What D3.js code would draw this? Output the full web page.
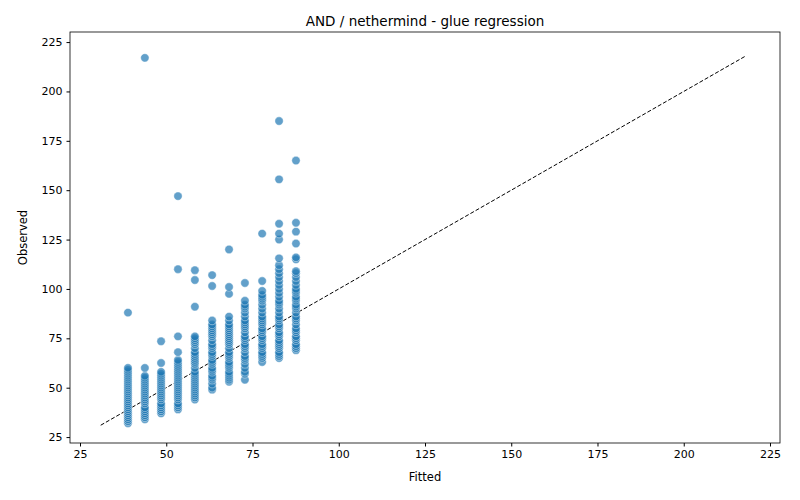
<!DOCTYPE html><html><head><script src="https://cdn.jsdelivr.net/npm/d3@7"></script>
<style>body{margin:0;background:#fff}text{font-family:"DejaVu Sans",sans-serif}</style></head><body><svg id="c" width="800" height="500"></svg><script>
const fittedLevels=[38.9,43.8,48.5,53.4,58.3,63.3,68.2,72.8,77.8,82.7,87.6];
const observedByLevel=[
[32,33,34,35,36,37,38,39,40,41,42,43,44,45,46,47,48,49,50,51,52,53,54,55,56,57,58,59,60,88],
[34,35,36,37,38,39,40,42,43,44,45,46,47,48,49,50,51,52,53,54,55,56,60,217],
[37,38,39,40,41,42,44,45,46,47,48,49,50,51,52,53,54,55,56,57,58,62.5,73.5],
[39,40,41,42,44,45,46,47,48,49,50,51,52,53,54,55,56,57,58,59,60,61,62,63,64,68,76,110,147],
[44,45,46,47,48,49,50,51,52,53,54,55,56,57,58,60,62,63,64,65,66,67,68,70,72,73,74,75,76,91,104.5,109.5],
[49,50,52,54,55,56,58,59,60,62,63,64,66,67,68,70,71,72,74,76,77,78,79,80,81,82,84,101.5,107],
[53,54,55,56,57,58,60,61,62,63,65,66,67,68,70,72,73,74,75,76,77,78,79,80,81,82,84,86,97.5,101,120],
[54,57,58,60,62,64,65,66,68,70,71,72,74,75,76,78,80,81,82,83,84,86,88,90,91,92,94,103],
[63,65,66,67,68,70,71,72,74,75,76,78,79,80,82,83,84,85,86,88,90,92,94,95,96,97,99,104,128],
[65,66,67,68,70,71,72,73,74,76,77,78,80,81,82,84,85,86,88,90,92,93,94,96,98,100,102,104,106,108,110,112,115.5,125,128,133,155.5,185],
[69,70,71,72,74,75,76,78,79,80,82,84,85,86,88,90,91,92,94,95,96,98,99,100,102,104,106,108,109,115,116,123,129,133.5,165]
];
const xTicks=[25,50,75,100,125,150,175,200,225];
const yTicks=[25,50,75,100,125,150,175,200,225];
const lineEnds=[31,218];
const svg=d3.select("#c");
const L=70,R=780,T=32,B=443;
const x=d3.scaleLinear().domain([22.1,227.9]).range([L,R]);
const y=d3.scaleLinear().domain([22.0,230.1]).range([B,T]);
const pts=[];fittedLevels.forEach((f,i)=>observedByLevel[i].forEach(o=>pts.push([f,o])));
svg.append("line").attr("x1",x(lineEnds[0])).attr("y1",y(lineEnds[0])).attr("x2",x(lineEnds[1])).attr("y2",y(lineEnds[1])).attr("stroke","#000").attr("stroke-dasharray","4,2").attr("stroke-width",1);
svg.append("g").selectAll("circle").data(pts).join("circle").attr("cx",d=>x(d[0])).attr("cy",d=>y(d[1])).attr("r",4.2).attr("fill","#1f77b4").attr("fill-opacity",0.7).attr("stroke","#fff").attr("stroke-opacity",0.7).attr("stroke-width",0.6);
svg.append("rect").attr("x",L).attr("y",T).attr("width",R-L).attr("height",B-T).attr("fill","none").attr("stroke","#000").attr("stroke-width",0.8);
const gx=svg.append("g").attr("transform",`translate(0,${B})`).call(d3.axisBottom(x).tickValues(xTicks).tickSize(3.5).tickPadding(4));
const gy=svg.append("g").attr("transform",`translate(${L},0)`).call(d3.axisLeft(y).tickValues(yTicks).tickSize(3.5).tickPadding(4));
[gx,gy].forEach(g=>{g.select(".domain").remove();g.selectAll("text").attr("font-size",11).attr("fill","#000").style("font-family","DejaVu Sans");});
svg.append("text").attr("x",(L+R)/2).attr("y",26).attr("text-anchor","middle").attr("font-size",13.5).text("AND / nethermind - glue regression");
svg.append("text").attr("x",(L+R)/2).attr("y",481).attr("text-anchor","middle").attr("font-size",11.5).text("Fitted");
svg.append("text").attr("transform",`translate(27,${(T+B)/2}) rotate(-90)`).attr("text-anchor","middle").attr("font-size",11.5).text("Observed");
</script></body></html>
